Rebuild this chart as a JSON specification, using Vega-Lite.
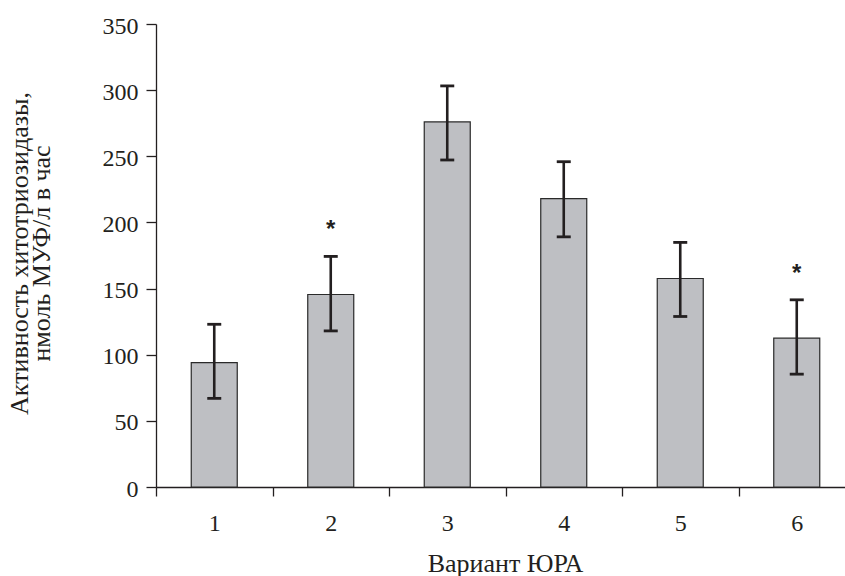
{
  "$schema": "https://vega.github.io/schema/vega-lite/v6.json",
  "width": 689,
  "height": 463,
  "autosize": {"type": "none"},
  "padding": {"left": 156, "top": 24, "right": 0, "bottom": 89},
  "background": "white",
  "config": {"view": {"stroke": null}, "font": "Liberation Serif"},
  "data": {
    "values": [
      {"variant": "1", "mean": 94, "low": 67, "high": 123, "star": ""},
      {"variant": "2", "mean": 145.5, "low": 118, "high": 174.3, "star": "*"},
      {"variant": "3", "mean": 276, "low": 247.2, "high": 303.2, "star": ""},
      {"variant": "4", "mean": 218, "low": 189.1, "high": 245.9, "star": ""},
      {"variant": "5", "mean": 157.6, "low": 128.9, "high": 184.9, "star": ""},
      {"variant": "6", "mean": 112.5, "low": 85.3, "high": 141.5, "star": "*"}
    ]
  },
  "encoding": {
    "x": {
      "field": "variant",
      "type": "ordinal",
      "scale": {"range": [0, 699], "paddingInner": 0, "paddingOuter": 0},
      "axis": {
        "title": "Вариант ЮРА",
        "labelAngle": 0,
        "tickBand": "extent",
        "tickSize": 9,
        "labelPadding": 15,
        "labelFontSize": 24,
        "labelFont": "Liberation Serif",
        "labelColor": "#231f20",
        "titleFont": "Liberation Serif",
        "titleFontSize": 26,
        "titleFontWeight": "normal",
        "titleColor": "#231f20",
        "titleX": 349,
        "titleY": 84,
        "titleAlign": "center",
        "titleBaseline": "alphabetic",
        "domainColor": "#231f20",
        "tickColor": "#231f20",
        "domainWidth": 1.3,
        "tickWidth": 1.3
      }
    }
  },
  "layer": [
    {
      "mark": {"type": "bar", "width": 46, "fill": "#bebfc3", "stroke": "#2a2a2a", "strokeWidth": 1.2},
      "encoding": {
        "y": {
          "field": "mean",
          "type": "quantitative",
          "scale": {"domain": [0, 350], "nice": false},
          "axis": {
            "values": [0, 50, 100, 150, 200, 250, 300, 350],
            "grid": false,
            "tickSize": 10,
            "labelPadding": 8,
            "labelFontSize": 24,
            "labelFont": "Liberation Serif",
            "labelColor": "#231f20",
            "labelOffset": 2,
            "domainColor": "#231f20",
            "tickColor": "#231f20",
            "domainWidth": 1.3,
            "tickWidth": 1.3,
            "title": ["Активность хитотриозидазы,", "нмоль МУФ/л в час"],
            "titleFont": "Liberation Serif",
            "titleFontSize": 26,
            "titleFontWeight": "normal",
            "titleColor": "#231f20",
            "titleAngle": -90,
            "titleX": -129,
            "titleY": 229,
            "titleAlign": "center",
            "titleBaseline": "alphabetic",
            "titleLineHeight": 22
          }
        }
      }
    },
    {
      "mark": {"type": "rule", "color": "#231f20", "strokeWidth": 2.6},
      "encoding": {
        "y": {"field": "low", "type": "quantitative"},
        "y2": {"field": "high"}
      }
    },
    {
      "mark": {"type": "tick", "color": "#231f20", "size": 14, "thickness": 2.8, "opacity": 1},
      "encoding": {"y": {"field": "low", "type": "quantitative"}}
    },
    {
      "mark": {"type": "tick", "color": "#231f20", "size": 14, "thickness": 2.8, "opacity": 1},
      "encoding": {"y": {"field": "high", "type": "quantitative"}}
    },
    {
      "mark": {"type": "text", "font": "Liberation Sans", "fontSize": 24, "fontWeight": "bold", "dy": -19, "baseline": "alphabetic", "align": "center", "color": "#231f20"},
      "encoding": {
        "y": {"field": "high", "type": "quantitative"},
        "text": {"field": "star"}
      }
    }
  ]
}
